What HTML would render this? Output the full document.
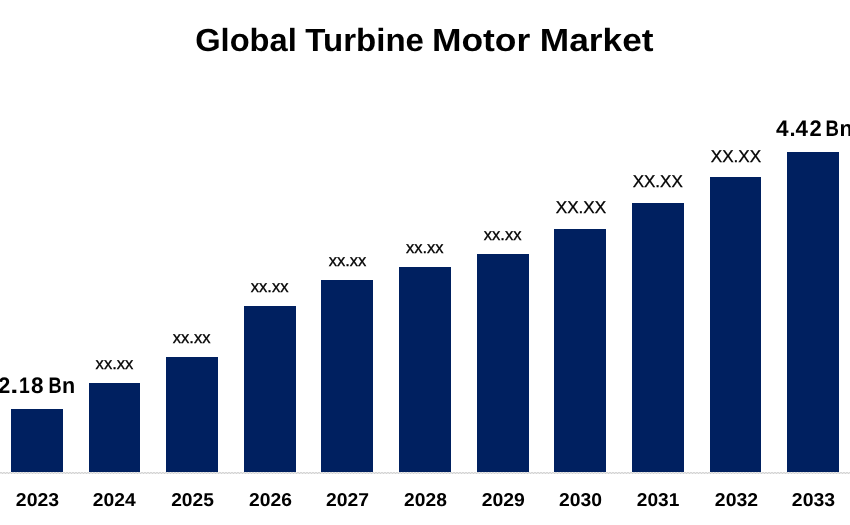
<!DOCTYPE html>
<html><head><meta charset="utf-8"><title>Global Turbine Motor Market</title>
<style>
html,body{margin:0;padding:0;background:#fff;}
body{width:850px;height:525px;overflow:hidden;font-family:"Liberation Sans",sans-serif;}
svg{display:block;}
text{font-family:"Liberation Sans",sans-serif;fill:#000;text-rendering:geometricPrecision;}
.b{font-weight:bold;}
.r{stroke:#000;stroke-width:0.3px;stroke-linejoin:miter;}
#txt{filter:grayscale(1);}
</style></head><body>
<svg width="850" height="525" viewBox="0 0 850 525">
<rect width="850" height="525" fill="#fff"/>
<defs><pattern id="ax" x="0" y="472" width="3" height="2" patternUnits="userSpaceOnUse"><rect width="3" height="2" fill="#ececec"/><rect x="0" y="0" width="2" height="1" fill="#d6d6d6"/><rect x="2" y="1" width="1" height="1" fill="#d2d2d2"/><rect x="0" y="1" width="2" height="1" fill="#e8e8e8"/></pattern></defs>
<rect x="0" y="472" width="850" height="2" fill="url(#ax)" shape-rendering="crispEdges"/>
<rect x="11" y="409" width="52" height="63" fill="#002060"/>
<rect x="89" y="383" width="51" height="89" fill="#002060"/>
<rect x="166" y="357" width="52" height="115" fill="#002060"/>
<rect x="244" y="306" width="52" height="166" fill="#002060"/>
<rect x="321" y="280" width="52" height="192" fill="#002060"/>
<rect x="399" y="267" width="52" height="205" fill="#002060"/>
<rect x="477" y="254" width="52" height="218" fill="#002060"/>
<rect x="554" y="229" width="52" height="243" fill="#002060"/>
<rect x="632" y="203" width="52" height="269" fill="#002060"/>
<rect x="710" y="177" width="51" height="295" fill="#002060"/>
<rect x="787" y="152" width="52" height="320" fill="#002060"/>
<g id="txt">
<text class="b" x="195.18" y="51.3" font-size="32.0" textLength="101.61" lengthAdjust="spacingAndGlyphs">Global</text>
<text class="b" x="305.30" y="51.3" font-size="32.0" textLength="118.66" lengthAdjust="spacingAndGlyphs">Turbine</text>
<text class="b" x="431.90" y="51.3" font-size="32.0" textLength="98.32" lengthAdjust="spacingAndGlyphs">Motor</text>
<text class="b" x="539.81" y="51.3" font-size="32.0" textLength="113.73" lengthAdjust="spacingAndGlyphs">Market</text>
<text class="b" x="15.89" y="506.0" font-size="18.5" textLength="43.25" lengthAdjust="spacingAndGlyphs">2023</text>
<text class="b" x="92.72" y="506.0" font-size="18.5" textLength="42.89" lengthAdjust="spacingAndGlyphs">2024</text>
<text class="b" x="171.19" y="506.0" font-size="18.5" textLength="42.72" lengthAdjust="spacingAndGlyphs">2025</text>
<text class="b" x="249.10" y="506.0" font-size="18.5" textLength="42.90" lengthAdjust="spacingAndGlyphs">2026</text>
<text class="b" x="325.98" y="506.0" font-size="18.5" textLength="42.99" lengthAdjust="spacingAndGlyphs">2027</text>
<text class="b" x="404.14" y="506.0" font-size="18.5" textLength="42.73" lengthAdjust="spacingAndGlyphs">2028</text>
<text class="b" x="481.67" y="506.0" font-size="18.5" textLength="43.21" lengthAdjust="spacingAndGlyphs">2029</text>
<text class="b" x="559.09" y="506.0" font-size="18.5" textLength="43.00" lengthAdjust="spacingAndGlyphs">2030</text>
<text class="b" x="636.82" y="506.0" font-size="18.5" textLength="42.52" lengthAdjust="spacingAndGlyphs">2031</text>
<text class="b" x="714.86" y="506.0" font-size="18.5" textLength="43.22" lengthAdjust="spacingAndGlyphs">2032</text>
<text class="b" x="791.89" y="506.0" font-size="18.5" textLength="43.25" lengthAdjust="spacingAndGlyphs">2033</text>
<text class="r" x="95.61" y="369.0" font-size="16.8" textLength="37.78" lengthAdjust="spacingAndGlyphs">xx.xx</text>
<text class="r" x="172.77" y="343.0" font-size="16.8" textLength="37.77" lengthAdjust="spacingAndGlyphs">xx.xx</text>
<text class="r" x="250.75" y="292.0" font-size="16.8" textLength="37.82" lengthAdjust="spacingAndGlyphs">xx.xx</text>
<text class="r" x="328.65" y="266.0" font-size="16.8" textLength="37.70" lengthAdjust="spacingAndGlyphs">xx.xx</text>
<text class="r" x="405.90" y="253.0" font-size="16.8" textLength="37.62" lengthAdjust="spacingAndGlyphs">xx.xx</text>
<text class="r" x="483.74" y="240.0" font-size="16.8" textLength="37.78" lengthAdjust="spacingAndGlyphs">xx.xx</text>
<text class="r" x="555.77" y="213.0" font-size="17.2" textLength="50.35" lengthAdjust="spacingAndGlyphs">XX.XX</text>
<text class="r" x="632.70" y="187.0" font-size="17.2" textLength="50.04" lengthAdjust="spacingAndGlyphs">XX.XX</text>
<text class="r" x="710.79" y="162.0" font-size="17.2" textLength="50.24" lengthAdjust="spacingAndGlyphs">XX.XX</text>
<text class="b" x="-1.85" y="392.6" font-size="22.4" textLength="12.01" lengthAdjust="spacingAndGlyphs">2</text>
<text class="b" x="10.23" y="392.6" font-size="22.4" textLength="8.07" lengthAdjust="spacingAndGlyphs">.</text>
<text class="b" x="18.88" y="392.6" font-size="22.4" textLength="10.76" lengthAdjust="spacingAndGlyphs">1</text>
<text class="b" x="31.09" y="392.6" font-size="22.4" textLength="12.51" lengthAdjust="spacingAndGlyphs">8</text>
<text class="b" x="48.58" y="392.6" font-size="22.4" textLength="13.14" lengthAdjust="spacingAndGlyphs">B</text>
<text class="b" x="62.08" y="392.6" font-size="22.4" textLength="13.16" lengthAdjust="spacingAndGlyphs">n</text>
<text class="b" x="776.06" y="135.6" font-size="22.4" textLength="12.56" lengthAdjust="spacingAndGlyphs">4</text>
<text class="b" x="789.41" y="135.6" font-size="22.4" textLength="6.10" lengthAdjust="spacingAndGlyphs">.</text>
<text class="b" x="795.46" y="135.6" font-size="22.4" textLength="12.46" lengthAdjust="spacingAndGlyphs">4</text>
<text class="b" x="809.54" y="135.6" font-size="22.4" textLength="12.24" lengthAdjust="spacingAndGlyphs">2</text>
<text class="b" x="825.46" y="135.6" font-size="22.4" textLength="13.38" lengthAdjust="spacingAndGlyphs">B</text>
<text class="b" x="839.48" y="135.6" font-size="22.4" textLength="13.16" lengthAdjust="spacingAndGlyphs">n</text>
</g>
</svg>
</body></html>
